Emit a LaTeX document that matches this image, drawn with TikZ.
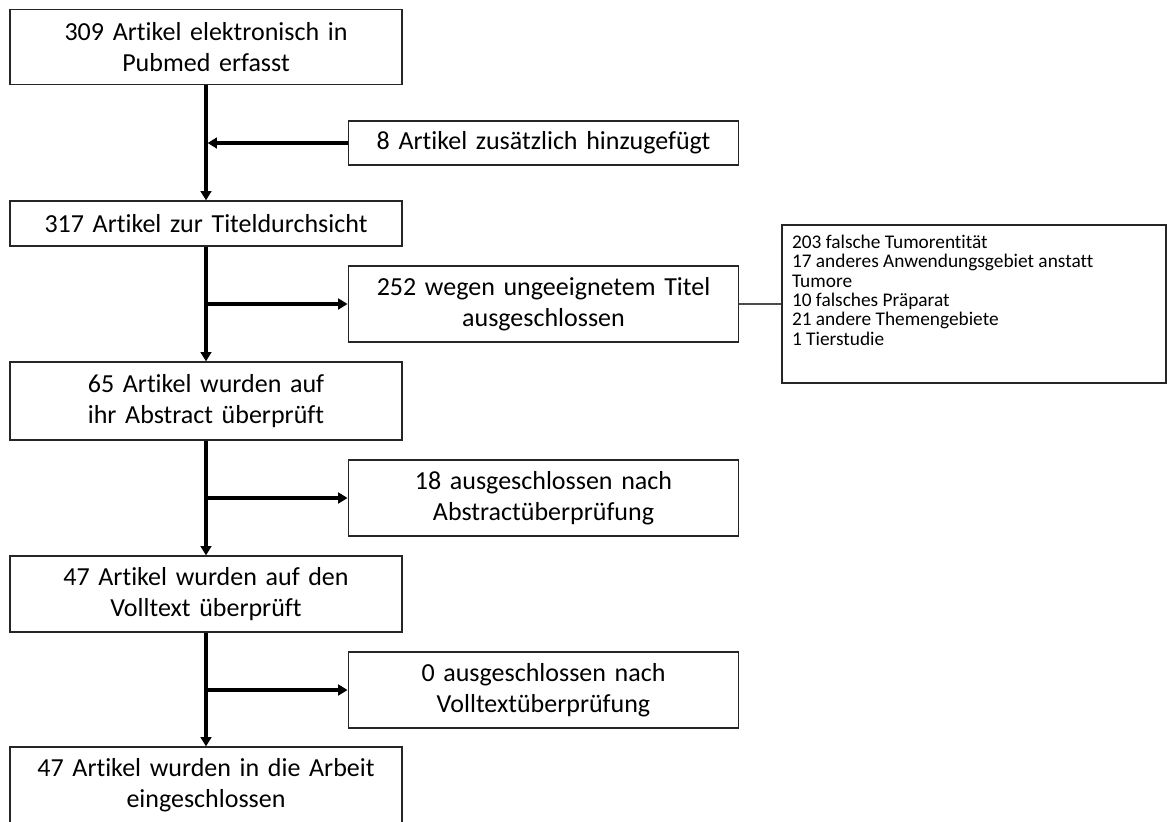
\documentclass[tikz,border=0pt]{standalone}
\usepackage{fontspec}
\setmainfont{Carlito}[RawFeature={-liga;-clig;-calt}]
\usetikzlibrary{arrows.meta}

\begin{document}
\begin{tikzpicture}[x=0.75pt,y=-0.75pt,
  kasten/.style={draw=black!85,line width=0.9pt,inner sep=0pt,align=center,
    font=\fontsize{19.5}{23.5}\selectfont},
  haupt/.style={kasten,minimum width=294pt,text width=285pt},
  neben/.style={kasten,minimum width=293pt,text width=285pt},
  pfeil/.style={line width=2.5pt,-{Triangle[length=7pt,width=8pt]}},
  duenn/.style={draw=black!70,line width=0.9pt}]
\useasboundingbox (0,0) rectangle (1167,821);
% Hauptkette
\node[haupt,minimum height=56.25pt] (b1) at (206,47) {309 Artikel elektronisch in\\Pubmed erfasst};
\node[haupt,minimum height=33.75pt] (b2) at (206,223.5) {317 Artikel zur Titeldurchsicht};
\node[haupt,minimum height=58.5pt] (b3) at (206,401) {65 Artikel wurden auf\\ihr Abstract überprüft};
\node[haupt,minimum height=57pt] (b4) at (206,594) {47 Artikel wurden auf den\\Volltext überprüft};
\node[haupt,minimum height=57pt] (b5) at (206,785) {47 Artikel wurden in die Arbeit\\eingeschlossen};
% Seitenkaesten
\node[neben,minimum height=33pt] (add) at (543.5,143) {8 Artikel zusätzlich hinzugefügt};
\node[neben,minimum height=57pt] (ex1) at (543.5,304) {252 wegen ungeeignetem Titel\\ausgeschlossen};
\node[neben,minimum height=57pt] (ex2) at (543.5,498) {18 ausgeschlossen nach\\Abstractüberprüfung};
\node[neben,minimum height=57pt] (ex3) at (543.5,690) {0 ausgeschlossen nach\\Volltextüberprüfung};
\node[draw=black!85,line width=0.9pt,inner xsep=7.5pt,inner ysep=0pt] (det) at (974,304)
  {\begin{minipage}[c][118.5pt][t]{273pt}\fontsize{14.5}{14.5}\selectfont\vspace*{7.5pt}
  203 falsche Tumorentität\\
  17 anderes Anwendungsgebiet anstatt\\
  Tumore\\
  10 falsches Präparat\\
  21 andere Themengebiete\\
  1 Tierstudie
  \end{minipage}};
% Pfeile
\draw[pfeil] (b1.south) -- (b2.north);
\draw[pfeil] (add.west) -- ([xshift=1.2pt]add.west -| b1.south);
\draw[pfeil] (b2.south) -- (b3.north);
\draw[pfeil] (b2.south |- ex1.west) -- (ex1.west);
\draw[pfeil] (b3.south) -- (b4.north);
\draw[pfeil] (b3.south |- ex2.west) -- (ex2.west);
\draw[pfeil] (b4.south) -- (b5.north);
\draw[pfeil] (b4.south |- ex3.west) -- (ex3.west);
\draw[duenn] (ex1.east) -- (det.west);
\end{tikzpicture}
\end{document}
